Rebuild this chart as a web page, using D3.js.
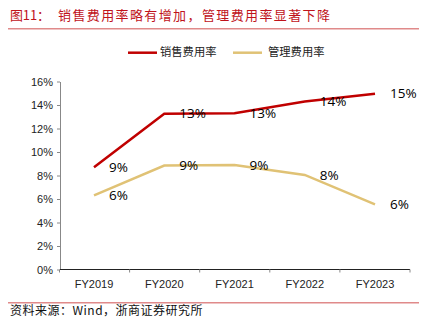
<!DOCTYPE html>
<html><head><meta charset="utf-8">
<script src="https://cdn.jsdelivr.net/npm/d3@7"></script>
<style>body{margin:0;background:#fff}svg{display:block}</style>
</head><body>
<script>
const categories = ["FY2019","FY2020","FY2021","FY2022","FY2023"];
const salesRate = [0.087,0.1325,0.133,0.143,0.1495];
const mgmtRate = [0.063,0.0885,0.089,0.0805,0.0555];
const yTicks = [0,0.02,0.04,0.06,0.08,0.10,0.12,0.14,0.16];
const seriesNames = ["销售费用率","管理费用率"];
const colors = ["#C00000","#E0C275"];

const W=427,H=328;
const svg=d3.select("body").append("svg").attr("width",W).attr("height",H);

// title
const tFont="'Noto Sans CJK SC', 'DejaVu Serif', serif";
svg.append("text").attr("x",10).attr("y",20).attr("fill","#C0131B")
  .style("font-family",tFont).style("font-size","13px")
  .attr("textLength",40).attr("lengthAdjust","spacing")
  .text("图11：");
svg.append("text").attr("x",58).attr("y",20).attr("fill","#C0131B")
  .style("font-family",tFont).style("font-size","13px")
  .attr("textLength",272).attr("lengthAdjust","spacing")
  .text("销售费用率略有增加，管理费用率显著下降");
svg.append("line").attr("x1",8).attr("x2",419).attr("y1",28.7).attr("y2",28.7)
  .attr("stroke","#E08A8A").attr("stroke-width",1.5);

const x=d3.scalePoint().domain(categories).range([94,375]);
const xBand=d3.scaleBand().domain(categories).range([59.5,410]);
const y=d3.scaleLinear().domain([0,0.16]).range([269.5,81.5]);

// y axis
const yAxis=d3.axisLeft(y).tickValues(yTicks).tickFormat(d3.format(".0%")).tickSize(3).tickSizeOuter(0);
const gy=svg.append("g").attr("transform","translate(60,0)").call(yAxis);
gy.select(".domain").attr("stroke","#888");
gy.selectAll(".tick line").attr("stroke","#888");
gy.selectAll("text").style("font-family","'Liberation Sans', Arial, sans-serif").style("font-size","11px").attr("fill","#222").attr("x",-7);

// x axis
const gx=svg.append("g").attr("transform","translate(0,269.5)");
gx.append("line").attr("x1",60).attr("x2",410).attr("stroke","#222");
const bounds=categories.map(c=>xBand(c)).concat([xBand.range()[1]]);
gx.selectAll("line.t").data(bounds).enter().append("line").attr("class","t")
  .attr("x1",d=>d).attr("x2",d=>d).attr("y1",0).attr("y2",3).attr("stroke","#888");
gx.selectAll("text").data(categories).enter().append("text")
  .attr("x",d=>x(d)).attr("y",18).attr("text-anchor","middle")
  .style("font-family","'Liberation Sans', Arial, sans-serif").style("font-size","11px").attr("fill","#222")
  .text(d=>d);

// lines
const line=d3.line().x((d,i)=>x(categories[i])).y(d=>y(d));
[salesRate,mgmtRate].forEach((s,k)=>{
  svg.append("path").datum(s).attr("d",line).attr("fill","none")
    .attr("stroke",colors[k]).attr("stroke-width",2.5);
  svg.selectAll(null).data(s).enter().append("text")
    .attr("x",(d,i)=>x(categories[i])+15).attr("y",d=>y(d)+1)
    .attr("dominant-baseline","middle")
    .style("font-family","'Open Sans', 'Liberation Sans', sans-serif").style("font-size","13.5px").attr("fill","#000")
    .text(d=>Math.round(d*100)+"%");
});

// legend
const leg=svg.append("g");
[[128,160],[233,268]].forEach((p,k)=>{
  leg.append("line").attr("x1",p[0]).attr("x2",p[0]+29).attr("y1",52.7).attr("y2",52.7)
    .attr("stroke",colors[k]).attr("stroke-width",2.5);
  leg.append("text").attr("x",p[1]).attr("y",53).attr("dominant-baseline","middle")
    .style("font-family","'Noto Sans CJK SC', sans-serif").style("font-size","11.3px").attr("fill","#222")
    .text(seriesNames[k]);
});

// footer
svg.append("line").attr("x1",8).attr("x2",419).attr("y1",302.7).attr("y2",302.7)
  .attr("stroke","#E08A8A").attr("stroke-width",1.5);
svg.append("text").attr("x",10).attr("y",315).attr("fill","#111")
  .style("font-family","'Noto Sans CJK SC', 'DejaVu Serif', serif").style("font-size","12px")
  .style("letter-spacing","0.5px")
  .text("资料来源：Wind，浙商证券研究所");
</script>
</body></html>
